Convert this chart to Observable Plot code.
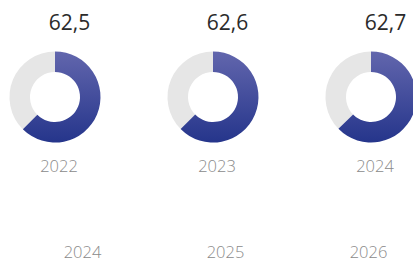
<!DOCTYPE html>
<html><head><meta charset="utf-8">
<script src="https://cdn.jsdelivr.net/npm/d3@7"></script>
<script src="https://cdn.jsdelivr.net/npm/@observablehq/plot@0.6"></script>
<style>
body{margin:0;background:#fff;}
#chart svg{display:block;}
</style>
</head><body><div id="chart"></div>
<script>
const years = ["2022", "2023", "2024"];
const values = [62.5, 62.6, 62.7];
const bottomYears = ["2024", "2025", "2026"];

const data = years.map((year, i) => ({year, value: values[i]}));
const bottomData = bottomYears.map(year => ({year}));
const fmt = v => v.toFixed(1).replace(".", ",");

const FONT = "'Open Sans', sans-serif";

function donuts(index, scales, channels, dimensions) {
  const g = d3.create("svg:g");
  const defs = g.append("defs");
  const grad = defs.append("linearGradient")
    .attr("id", "donutGrad")
    .attr("x1", 0).attr("y1", 0).attr("x2", 0).attr("y2", 1);
  grad.append("stop").attr("offset", "0%").attr("stop-color", "#6266ad");
  grad.append("stop").attr("offset", "100%").attr("stop-color", "#25358b");
  const outer = 45.5, inner = 25;
  const cy = dimensions.marginTop + 97;
  const arc = d3.arc().innerRadius(inner).outerRadius(outer);
  for (const d of data) {
    const cx = scales.x(d.year);
    const a = d.value / 100 * 2 * Math.PI;
    const gg = g.append("g").attr("transform", `translate(${cx},${cy})`);
    gg.append("path").attr("d", arc({startAngle: a, endAngle: 2 * Math.PI})).attr("fill", "#e6e6e6");
    gg.append("path").attr("d", arc({startAngle: 0, endAngle: a})).attr("fill", "url(#donutGrad)");
  }
  return g.node();
}

const topPlot = Plot.plot({
  width: 413,
  height: 240,
  margin: 0,
  style: {fontFamily: FONT, background: "#fff"},
  x: {type: "point", domain: years, range: [54, 371], padding: 0, axis: null},
  marks: [
    donuts,
    Plot.text(data, {x: "year", text: d => fmt(d.value), frameAnchor: "top", lineAnchor: "middle",
      dy: 22.5, dx: 14, fontSize: 21, fill: "#2b2b2b", fontWeight: 500}),
    Plot.text(data, {x: "year", text: "year", frameAnchor: "top", lineAnchor: "middle",
      dy: 166, dx: 3.5, fontSize: 16.5, fill: "#8a8a8a", fontWeight: 300})
  ]
});

const bottomPlot = Plot.plot({
  width: 413,
  height: 22,
  margin: 0,
  style: {fontFamily: FONT, background: "#fff"},
  x: {type: "point", domain: bottomYears, range: [82, 368], padding: 0, axis: null},
  marks: [
    Plot.text(bottomData, {x: "year", text: "year", frameAnchor: "top", lineAnchor: "middle",
      dy: 12.5, fontSize: 16.5, fill: "#8a8a8a", fontWeight: 300})
  ]
});

document.getElementById("chart").append(topPlot, bottomPlot);
</script>
</body></html>
